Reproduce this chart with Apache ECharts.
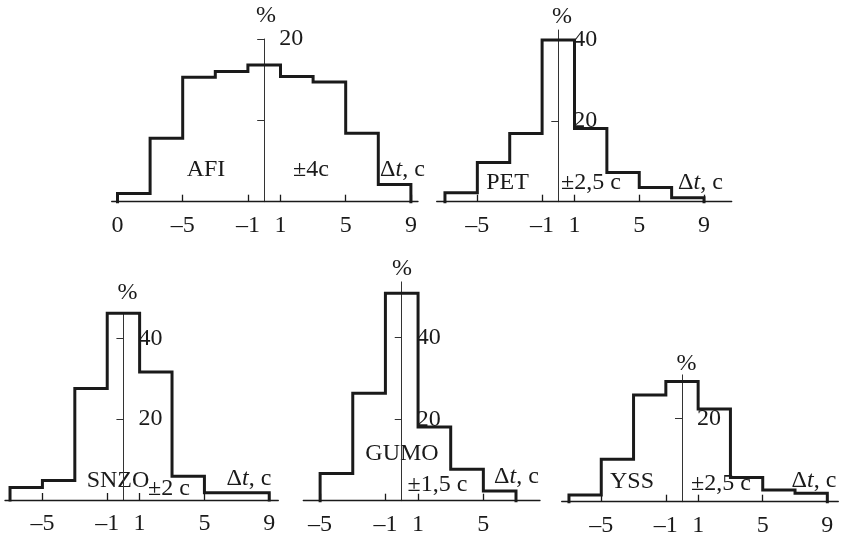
<!DOCTYPE html>
<html>
<head>
<meta charset="utf-8">
<script src="https://cdn.jsdelivr.net/npm/echarts@6/dist/echarts.min.js"></script>
<style>
html,body{margin:0;padding:0;background:#fff;}
#chart{width:841px;height:538px;}
</style>
</head>
<body>
<div id="chart"></div>
<script>
// ---- data ----
const stations = ['AFI', 'PET', 'SNZO', 'GUMO', 'YSS'];
const tolerances = ['±4c', '±2,5 c', '±2 c', '±1,5 c', '±2,5 c'];

const afiEdges = [-9, -7, -5, -3, -1, 1, 3, 5, 7, 9];
const afiValues = [1.0, 7.8, 15.3, 16.0, 16.8, 15.4, 14.7, 8.4, 2.1];
const petEdges = [-7, -5, -3, -1, 1, 3, 5, 7, 9];
const petValues = [2.2, 9.7, 16.9, 40.0, 18.1, 7.2, 3.5, 1.0];
const snzoEdges = [-7, -5, -3, -1, 1, 3, 5, 7, 9];
const snzoValues = [3.1, 4.8, 27.6, 46.2, 31.7, 5.9, 1.8, 1.8];
const gumoEdges = [-5, -3, -1, 1, 3, 5, 7];
const gumoValues = [6.7, 26.4, 50.9, 18.1, 7.7, 2.4];
const yssEdges = [-7, -5, -3, -1, 1, 3, 5, 7, 9];
const yssValues = [1.6, 10.2, 25.6, 28.8, 22.2, 5.8, 2.8, 2.0];

const afiXTicks = [-9, -5, -1, 1, 5, 9];
const afiXLabels = ['0', '–5', '–1', '1', '5', '9'];
const stdXTicks = [-5, -1, 1, 5, 9];
const stdXLabels = ['–5', '–1', '1', '5', '9'];
const gumoXTicks = [-5, -1, 1, 5];
const gumoXLabels = ['–5', '–1', '1', '5'];

const afiYTicks = [10, 20];
const afiYLabels = [20];
const petYTicks = [20, 40];
const petYLabels = [20, 40];
const snzoYTicks = [20, 40];
const snzoYLabels = [20, 40];
const gumoYTicks = [20, 40];
const gumoYLabels = [20, 40];
const yssYTicks = [20];
const yssYLabels = [20];

// ---- layout ----
const panels = [
  {edges: afiEdges, values: afiValues, xt: afiXTicks, xl: afiXLabels, yt: afiYTicks, yl: afiYLabels,
   grid: {left: 111.7, top: 39, width: 306.3, height: 162.7}, xmin: -9.356, xmax: 9.436, ymax: 20},
  {edges: petEdges, values: petValues, xt: stdXTicks, xl: stdXLabels, yt: petYTicks, yl: petYLabels,
   grid: {left: 436.7, top: 30, width: 295, height: 171.7}, xmin: -7.51, xmax: 10.71, ymax: 42.5},
  {edges: snzoEdges, values: snzoValues, xt: stdXTicks, xl: stdXLabels, yt: snzoYTicks, yl: snzoYLabels,
   grid: {left: 5, top: 313.3, width: 273.3, height: 186.7}, xmin: -7.31, xmax: 9.56, ymax: 46.2},
  {edges: gumoEdges, values: gumoValues, xt: gumoXTicks, xl: gumoXLabels, yt: gumoYTicks, yl: gumoYLabels,
   grid: {left: 303.3, top: 281.9, width: 236.7, height: 218.8}, xmin: -6.03, xmax: 8.47, ymax: 53.7},
  {edges: yssEdges, values: yssValues, xt: stdXTicks, xl: stdXLabels, yt: yssYTicks, yl: yssYLabels,
   grid: {left: 561.7, top: 374.9, width: 276.6, height: 126.8}, xmin: -7.45, xmax: 9.68, ymax: 30.4}
];

const FONT = 'Liberation Serif';
const INK = '#1a1a1a';

function outline(edges, values) {
  const pts = [[edges[0], 0]];
  for (let i = 0; i < values.length; i++) {
    pts.push([edges[i], values[i]]);
    pts.push([edges[i + 1], values[i]]);
  }
  pts.push([edges[edges.length - 1], 0]);
  return pts;
}

const grid = [], xAxis = [], yAxis = [], series = [];
panels.forEach((p, i) => {
  grid.push(Object.assign({outerBoundsMode: 'none', containLabel: false}, p.grid));
  xAxis.push({
    type: 'value', gridIndex: i, min: p.xmin, max: p.xmax,
    axisLine: {show: true, onZero: false, lineStyle: {color: INK, width: 1.3}},
    axisTick: {show: true, inside: true, length: 7, customValues: p.xt, lineStyle: {color: INK, width: 1.3}},
    axisLabel: {show: true, customValues: p.xt, margin: 12, fontFamily: FONT, fontSize: 24, color: INK,
      formatter: v => { const k = p.xt.indexOf(v); return k >= 0 ? p.xl[k] : ''; }},
    splitLine: {show: false}
  });
  // shift the y axis (line, ticks and labels together) onto x = 0
  const zeroShift = (0 - p.xmin) / (p.xmax - p.xmin) * p.grid.width;
  yAxis.push({
    type: 'value', gridIndex: i, min: 0, max: p.ymax, position: 'left', offset: -zeroShift,
    axisLine: {show: true, onZero: false, lineStyle: {color: '#333', width: 1}},
    axisTick: {show: true, inside: false, length: 7, customValues: p.yt, lineStyle: {color: '#333', width: 1}},
    axisLabel: {show: true, inside: true, margin: 15, customValues: p.yl, fontFamily: FONT, fontSize: 24, color: INK,
      verticalAlign: 'middle', formatter: v => String(v)},
    splitLine: {show: false}
  });
  series.push({
    type: 'line', xAxisIndex: i, yAxisIndex: i, data: outline(p.edges, p.values),
    showSymbol: false, symbol: 'none', clip: false, z: 3,
    lineStyle: {color: INK, width: 3, join: 'miter', cap: 'square'},
    animation: false
  });
});

// annotation text (pixel layout)
const pctPos = [[266, 16], [562, 17], [127.5, 293], [402, 268.5], [686.5, 363.5]];
const namePos = [[206, 170], [507.5, 182.5], [118, 480.5], [402, 453.5], [632, 482]];
const tolPos = [[311, 169.5], [591, 182.5], [169, 489], [437.5, 484.5], [721, 483.5]];
const dtPos = [[402.5, 169.5], [700.5, 182.5], [249, 478.5], [516.5, 477], [814, 480.5]];

const graphic = [];
stations.forEach((s, i) => {
  const base = {fontFamily: FONT, fontSize: 24, fill: INK, align: 'center', verticalAlign: 'middle'};
  graphic.push({type: 'text', x: pctPos[i][0], y: pctPos[i][1], style: Object.assign({}, base, {text: '%'})});
  graphic.push({type: 'text', x: namePos[i][0], y: namePos[i][1], style: Object.assign({}, base, {text: s})});
  graphic.push({type: 'text', x: tolPos[i][0], y: tolPos[i][1], style: Object.assign({}, base, {text: tolerances[i]})});
  graphic.push({type: 'text', x: dtPos[i][0], y: dtPos[i][1], style: Object.assign({}, base, {
    text: '{a|Δ}{i|t}{a|, c}',
    rich: {a: {fontFamily: FONT, fontSize: 24, fill: INK}, i: {fontFamily: FONT, fontSize: 24, fontStyle: 'italic', fill: INK}}
  })});
});

const chart = echarts.init(document.getElementById('chart'), null, {renderer: 'canvas'});
chart.setOption({
  animation: false,
  backgroundColor: '#fff',
  grid, xAxis, yAxis, series, graphic
});
</script>
</body>
</html>
